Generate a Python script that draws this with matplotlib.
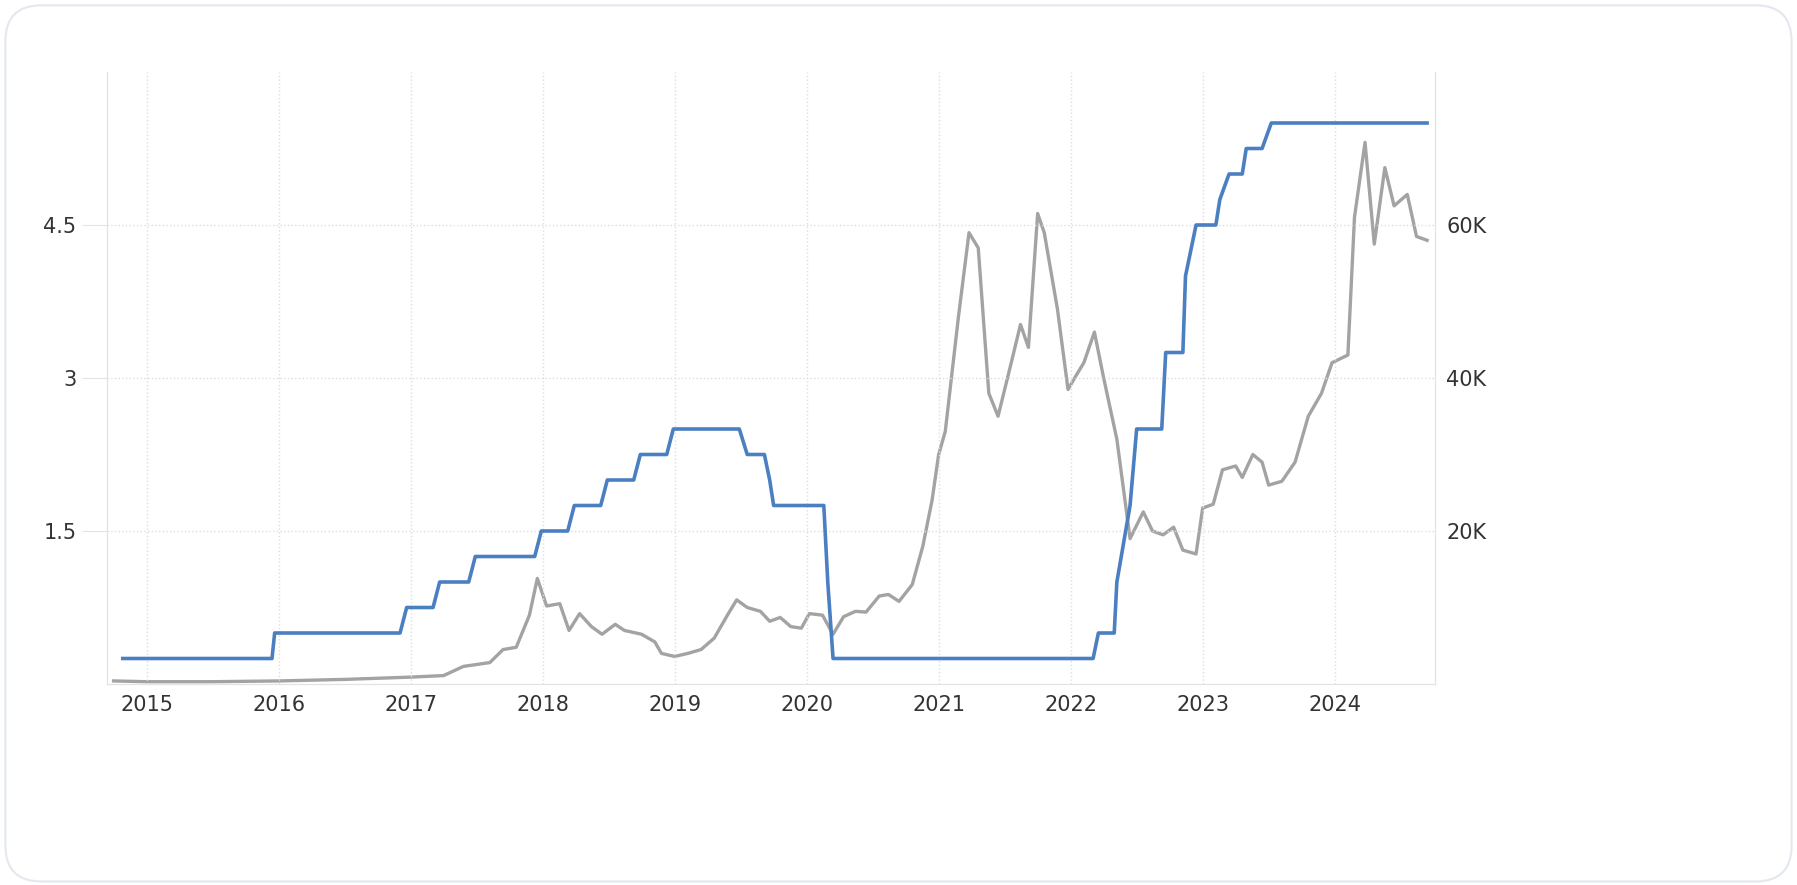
import matplotlib
matplotlib.use("Agg")
import matplotlib.pyplot as plt
from matplotlib.patches import FancyBboxPatch

# Fed funds rate (step changes)
rate_t = [2014.82, 2015.95, 2015.97, 2016.92, 2016.97, 2017.17, 2017.22, 2017.44, 2017.49,
          2017.94, 2017.99, 2018.19, 2018.24, 2018.44, 2018.49, 2018.69, 2018.74, 2018.94, 2018.99,
          2019.49, 2019.55, 2019.68, 2019.72, 2019.75, 2019.82, 2020.13, 2020.16, 2020.2,
          2022.17, 2022.21, 2022.33, 2022.35, 2022.45, 2022.5, 2022.55, 2022.69, 2022.72,
          2022.85, 2022.87, 2022.95, 2023.0, 2023.1, 2023.13, 2023.2, 2023.3, 2023.33, 2023.45,
          2023.52, 2024.7]
rate_v = [0.25, 0.25, 0.5, 0.5, 0.75, 0.75, 1.0, 1.0, 1.25,
          1.25, 1.5, 1.5, 1.75, 1.75, 2.0, 2.0, 2.25, 2.25, 2.5,
          2.5, 2.25, 2.25, 2.0, 1.75, 1.75, 1.75, 1.0, 0.25,
          0.25, 0.5, 0.5, 1.0, 1.75, 2.5, 2.5, 2.5, 3.25,
          3.25, 4.0, 4.5, 4.5, 4.5, 4.75, 5.0, 5.0, 5.25, 5.25,
          5.5, 5.5]

# Bitcoin price (USD thousands)
btc_t = [2014.75, 2015.0, 2015.5, 2016.0, 2016.5, 2017.0, 2017.25, 2017.4, 2017.6, 2017.7, 2017.8,
         2017.9, 2017.96, 2018.03, 2018.13, 2018.2, 2018.28, 2018.37, 2018.45, 2018.55, 2018.62,
         2018.75, 2018.85, 2018.9, 2019.0, 2019.1, 2019.2, 2019.3, 2019.4, 2019.47, 2019.55,
         2019.65, 2019.72, 2019.8, 2019.88, 2019.96, 2020.02, 2020.12, 2020.2, 2020.28, 2020.37,
         2020.45, 2020.55, 2020.62, 2020.7, 2020.8, 2020.88, 2020.95, 2021.0, 2021.05, 2021.15,
         2021.23, 2021.3, 2021.38, 2021.45, 2021.55, 2021.62, 2021.68, 2021.75, 2021.8, 2021.9,
         2021.98, 2022.03, 2022.1, 2022.18, 2022.25, 2022.35, 2022.45, 2022.55, 2022.62, 2022.7,
         2022.78, 2022.85, 2022.95, 2023.0, 2023.08, 2023.15, 2023.25, 2023.3, 2023.38, 2023.45,
         2023.5, 2023.6, 2023.7, 2023.8, 2023.9, 2023.98, 2024.1, 2024.15, 2024.23, 2024.3,
         2024.38, 2024.45, 2024.55, 2024.62, 2024.7]
btc_v = [0.4, 0.3, 0.3, 0.4, 0.6, 0.9, 1.1, 2.3, 2.8, 4.5, 4.8,
         9, 13.8, 10.2, 10.5, 7, 9.2, 7.5, 6.5, 7.8, 7,
         6.5, 5.5, 4, 3.6, 4, 4.5, 6, 9, 11, 10,
         9.5, 8.2, 8.7, 7.5, 7.3, 9.2, 9, 6.5, 8.8, 9.5,
         9.4, 11.5, 11.7, 10.8, 13, 18, 24, 30, 33, 48,
         59, 57, 38, 35, 42, 47, 44, 61.5, 59, 49,
         38.5, 40, 42, 46, 40, 32, 19, 22.5, 20, 19.5,
         20.5, 17.5, 17, 23, 23.5, 28, 28.5, 27, 30, 29,
         26, 26.5, 29, 35, 38, 42, 43, 61, 70.8, 57.5,
         67.5, 62.5, 64, 58.5, 58]

fig = plt.figure(figsize=(17.97, 8.85), dpi=100)
box = FancyBboxPatch((0.003, 0.004), 0.994, 0.99, boxstyle="round,pad=0,rounding_size=0.02",
                     transform=fig.transFigure, facecolor="none", edgecolor="#e3e8ef",
                     linewidth=1.5, mutation_aspect=2.03, zorder=-10)
fig.patches.append(box)
ax = fig.add_axes([107/1797, 1-684/885, (1435-107)/1797, (684-72)/885])
ax2 = ax.twinx()
ax2.plot(btc_t, btc_v, color="#a3a3a3", lw=2.4, zorder=2)
ax.plot(rate_t, rate_v, color="#4a7fc1", lw=2.6, zorder=3)
ax.set_zorder(ax2.get_zorder() + 1)
ax.patch.set_visible(False)
ax.set_xlim(2014.70, 2024.76)
ax.set_ylim(0, 6)
ax2.set_ylim(0, 80)
ax.set_xticks(range(2015, 2025))
ax.set_yticks([1.5, 3, 4.5])
ax.set_yticklabels(["1.5", "3", "4.5"])
ax2.set_yticks([20, 40, 60])
ax2.set_yticklabels(["20K", "40K", "60K"])
ax.grid(True, color="#dddddd", ls=":", lw=1)
for a in (ax, ax2):
    for s in a.spines.values():
        s.set_color("#e3e3e3")
    a.spines["top"].set_visible(False)
    a.tick_params(labelsize=15, colors="#333333", length=0)
ax.tick_params(axis="y", length=18, color="#e3e3e3", pad=4)
ax.tick_params(axis="x", pad=8)
ax2.tick_params(axis="y", pad=8)
fig.savefig("out.png", dpi=100)
